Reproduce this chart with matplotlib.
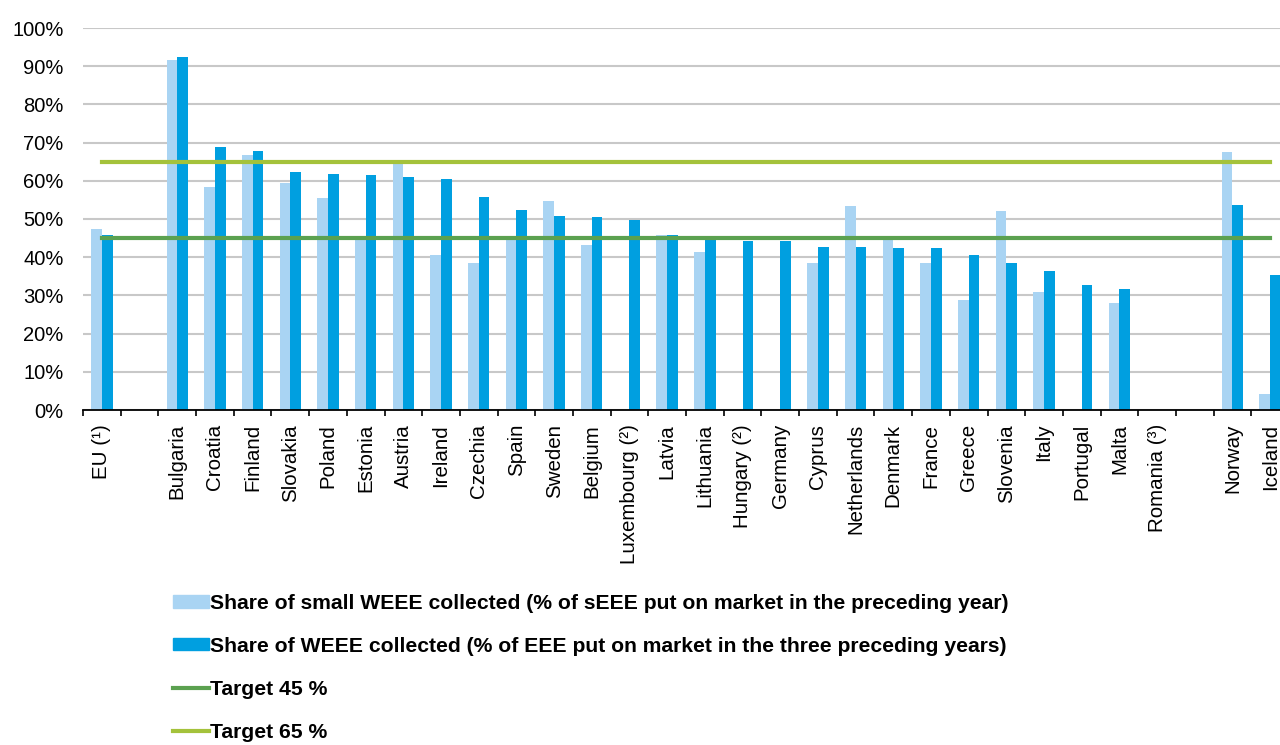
import numpy as np
import matplotlib.pyplot as plt
from matplotlib.patches import Patch
from matplotlib.lines import Line2D

plt.rcParams['font.family'] = ['Liberation Sans', 'DejaVu Sans']

nan = np.nan

# '' marks an empty slot between groups of countries
countries = ['EU (¹)', '', 'Bulgaria', 'Croatia', 'Finland', 'Slovakia', 'Poland',
             'Estonia', 'Austria', 'Ireland', 'Czechia', 'Spain', 'Sweden',
             'Belgium', 'Luxembourg (²)', 'Latvia', 'Lithuania', 'Hungary (²)',
             'Germany', 'Cyprus', 'Netherlands', 'Denmark', 'France', 'Greece',
             'Slovenia', 'Italy', 'Portugal', 'Malta', 'Romania (³)', '',
             'Norway', 'Iceland']

small_weee = [47.3, nan, 91.6, 58.3, 66.8, 59.4, 55.5,
              45.2, 64.6, 40.6, 38.4, 45.1, 54.8,
              43.1, nan, 45.9, 41.3, nan,
              nan, 38.4, 53.4, 45.1, 38.4, 28.8,
              52.0, 31.0, nan, 27.9, nan, nan,
              67.5, 4.1]

all_weee = [45.9, nan, 92.3, 68.9, 67.9, 62.3, 61.8,
            61.5, 61.1, 60.4, 55.8, 52.3, 50.8,
            50.6, 49.8, 45.9, 45.4, 44.2,
            44.2, 42.7, 42.7, 42.4, 42.4, 40.6,
            38.4, 36.3, 32.8, 31.7, nan, nan,
            53.7, 35.3]

target_low = 45
target_high = 65

c_light = '#A9D4F3'
c_dark = '#009FE0'
c_t45 = '#5BA150'
c_t65 = '#A4C23B'

fig = plt.figure(figsize=(12.8, 7.45), dpi=100)
# plot area runs slightly past the right edge of the figure
ax = fig.add_axes([83 / 1280, 1 - 410 / 745, 1206 / 1280, 382 / 745])

x = np.arange(len(countries))
w = 0.283
ax.bar(x - w / 2, small_weee, w, color=c_light, zorder=2)
ax.bar(x + w / 2, all_weee, w, color=c_dark, zorder=2)

ax.plot([x[0], x[-1]], [target_low] * 2, color=c_t45, lw=3, zorder=3)
ax.plot([x[0], x[-1]], [target_high] * 2, color=c_t65, lw=3, zorder=3)

ax.set_xlim(-0.5, len(countries) - 0.5)
ax.set_ylim(0, 100)
ax.set_yticks(np.arange(0, 101, 10))
ax.set_yticklabels([f'{v}%' for v in range(0, 101, 10)], fontsize=14.5)
ax.yaxis.grid(True, color='#C8C8C8', lw=1.5, zorder=0)
ax.set_axisbelow(True)
ax.tick_params(axis='y', length=0, pad=14)

ax.set_xticks(x)
ax.set_xticklabels(countries, rotation=90, fontsize=14.8, va='top', ha='center')
ax.set_xticks(np.arange(-0.5, len(countries), 1), minor=True)
ax.tick_params(axis='x', which='major', length=0, pad=10)
ax.tick_params(axis='x', which='minor', length=4.5, width=1.2, direction='out', color='black')

for s in ['left', 'right', 'top']:
    ax.spines[s].set_visible(False)
ax.spines['bottom'].set_color('black')
ax.spines['bottom'].set_linewidth(1.3)

handles = [
    Patch(color=c_light, label='Share of small WEEE collected (% of sEEE put on market in the preceding year)'),
    Patch(color=c_dark, label='Share of WEEE collected (% of EEE put on market in the three preceding years)'),
    Line2D([], [], color=c_t45, lw=3, label='Target 45 %'),
    Line2D([], [], color=c_t65, lw=3, label='Target 65 %'),
]
fig.legend(handles=handles, loc='upper left', bbox_to_anchor=(173 / 1280, 1 - 594 / 745),
           frameon=False, ncol=1, borderpad=0, borderaxespad=0,
           handlelength=1.72, handleheight=0.5,
           handletextpad=0.05, labelspacing=1.13,
           prop={'weight': 'bold', 'size': 15.2})

fig.savefig('out.png', dpi=100)
